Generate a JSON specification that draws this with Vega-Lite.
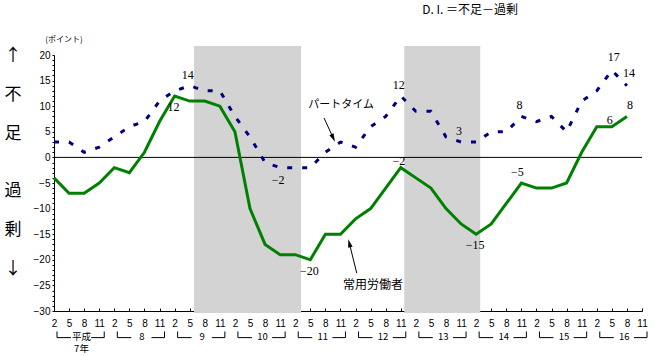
{
"$schema":"https://vega.github.io/schema/vega-lite/v6.json",
"width":588,"height":256,
"autosize":{"type":"none"},
"padding":{"left":54,"top":55,"right":11,"bottom":45},
"background":"white",
"config":{"view":{"stroke":null},"axis":{"grid":false,"labelColor":"black","domainColor":"black","tickColor":"black","labelFont":"Liberation Sans","labelFontSize":10,"zindex":1}},
"resolve":{"axis":{"x":"independent","y":"independent"}},
"datasets":{
"di":[
{"q":0,"series":"パートタイム","v":3},{"q":1,"series":"パートタイム","v":3},{"q":2,"series":"パートタイム","v":1},{"q":3,"series":"パートタイム","v":2},
{"q":4,"series":"パートタイム","v":4},{"q":5,"series":"パートタイム","v":6},{"q":6,"series":"パートタイム","v":7},{"q":7,"series":"パートタイム","v":11},
{"q":8,"series":"パートタイム","v":13},{"q":9,"series":"パートタイム","v":14},{"q":10,"series":"パートタイム","v":13},{"q":11,"series":"パートタイム","v":13},
{"q":12,"series":"パートタイム","v":8},{"q":13,"series":"パートタイム","v":4},{"q":14,"series":"パートタイム","v":-1},{"q":15,"series":"パートタイム","v":-2},
{"q":16,"series":"パートタイム","v":-2},{"q":17,"series":"パートタイム","v":-2},{"q":18,"series":"パートタイム","v":1},{"q":19,"series":"パートタイム","v":3},
{"q":20,"series":"パートタイム","v":2},{"q":21,"series":"パートタイム","v":6},{"q":22,"series":"パートタイム","v":8},{"q":23,"series":"パートタイム","v":12},
{"q":24,"series":"パートタイム","v":9},{"q":25,"series":"パートタイム","v":9},{"q":26,"series":"パートタイム","v":4},{"q":27,"series":"パートタイム","v":3},
{"q":28,"series":"パートタイム","v":3},{"q":29,"series":"パートタイム","v":5},{"q":30,"series":"パートタイム","v":5},{"q":31,"series":"パートタイム","v":8},
{"q":32,"series":"パートタイム","v":7},{"q":33,"series":"パートタイム","v":8},{"q":34,"series":"パートタイム","v":5},{"q":35,"series":"パートタイム","v":11},
{"q":36,"series":"パートタイム","v":13},{"q":37,"series":"パートタイム","v":17},{"q":38,"series":"パートタイム","v":14},
{"q":0,"series":"常用労働者","v":-4},{"q":1,"series":"常用労働者","v":-7},{"q":2,"series":"常用労働者","v":-7},{"q":3,"series":"常用労働者","v":-5},
{"q":4,"series":"常用労働者","v":-2},{"q":5,"series":"常用労働者","v":-3},{"q":6,"series":"常用労働者","v":1},{"q":7,"series":"常用労働者","v":7},
{"q":8,"series":"常用労働者","v":12},{"q":9,"series":"常用労働者","v":11},{"q":10,"series":"常用労働者","v":11},{"q":11,"series":"常用労働者","v":10},
{"q":12,"series":"常用労働者","v":5},{"q":13,"series":"常用労働者","v":-10},{"q":14,"series":"常用労働者","v":-17},{"q":15,"series":"常用労働者","v":-19},
{"q":16,"series":"常用労働者","v":-19},{"q":17,"series":"常用労働者","v":-20},{"q":18,"series":"常用労働者","v":-15},{"q":19,"series":"常用労働者","v":-15},
{"q":20,"series":"常用労働者","v":-12},{"q":21,"series":"常用労働者","v":-10},{"q":22,"series":"常用労働者","v":-6},{"q":23,"series":"常用労働者","v":-2},
{"q":24,"series":"常用労働者","v":-4},{"q":25,"series":"常用労働者","v":-6},{"q":26,"series":"常用労働者","v":-10},{"q":27,"series":"常用労働者","v":-13},
{"q":28,"series":"常用労働者","v":-15},{"q":29,"series":"常用労働者","v":-13},{"q":30,"series":"常用労働者","v":-9},{"q":31,"series":"常用労働者","v":-5},
{"q":32,"series":"常用労働者","v":-6},{"q":33,"series":"常用労働者","v":-6},{"q":34,"series":"常用労働者","v":-5},{"q":35,"series":"常用労働者","v":1},
{"q":36,"series":"常用労働者","v":6},{"q":37,"series":"常用労働者","v":6},{"q":38,"series":"常用労働者","v":8}
],
"recessions":[{"peak":9.29,"trough":16.39},{"peak":23.23,"trough":28.27}],
"years":[
{"year":"平成\n7年","first":0,"last":3},{"year":"8","first":4,"last":7},{"year":"9","first":8,"last":11},
{"year":"10","first":12,"last":15},{"year":"11","first":16,"last":19},{"year":"12","first":20,"last":23},
{"year":"13","first":24,"last":27},{"year":"14","first":28,"last":31},{"year":"15","first":32,"last":35},
{"year":"16","first":36,"last":39}
]
},
"layer":[
{"data":{"name":"di"},"transform":[{"filter":{"field":"series","equal":"常用労働者"}}],
 "mark":{"type":"line","color":"#008000","strokeWidth":3,"opacity":0},
 "encoding":{
 "x":{"field":"q","type":"quantitative","scale":{"domain":[0,39],"nice":false,"zero":false},
  "axis":{"title":null,"values":[0,1,2,3,4,5,6,7,8,9,10,11,12,13,14,15,16,17,18,19,20,21,22,23,24,25,26,27,28,29,30,31,32,33,34,35,36,37,38,39],
  "labelExpr":"['2','5','8','11'][datum.value % 4]","tickSize":-3,"labelPadding":10,"labelOverlap":false,"labelFlush":false,"labelAngle":0}},
 "y":{"field":"v","type":"quantitative","scale":{"domain":[-30,20],"nice":false,"zero":false},
  "axis":{"title":null,
  "values":[-30,-29,-28,-27,-26,-25,-24,-23,-22,-21,-20,-19,-18,-17,-16,-15,-14,-13,-12,-11,-10,-9,-8,-7,-6,-5,-4,-3,-2,-1,0,1,2,3,4,5,6,7,8,9,10,11,12,13,14,15,16,17,18,19,20],
  "labelExpr":"datum.value % 5 === 0 ? datum.label : ''","tickSize":2,"labelPadding":2,"labelOverlap":false}}}},
{"data":{"name":"recessions"},"mark":{"type":"rect","fill":"#d3d3d3"},
 "encoding":{"x":{"field":"peak","type":"quantitative","axis":null},
 "x2":{"field":"trough"},
 "y":{"datum":21.75,"type":"quantitative","axis":null},
 "y2":{"datum":-30.4}}},
{"data":{"values":[{}]},"mark":{"type":"rule","color":"black","strokeWidth":1},"encoding":{"y":{"datum":0,"type":"quantitative","axis":null}}},
{"data":{"name":"di"},"transform":[{"filter":{"field":"series","equal":"常用労働者"}}],
 "mark":{"type":"line","color":"#008000","strokeWidth":3},
 "encoding":{"x":{"field":"q","type":"quantitative","axis":null},"y":{"field":"v","type":"quantitative","axis":null}}},
{"data":{"name":"di"},"transform":[{"filter":{"field":"series","equal":"パートタイム"}}],
 "mark":{"type":"line","color":"#000080","strokeWidth":3,"strokeDash":[5,10]},
 "encoding":{"x":{"field":"q","type":"quantitative","axis":null},"y":{"field":"v","type":"quantitative","axis":null}}},
{"data":{"name":"di"},"transform":[{"filter":{"and":[{"field":"series","equal":"パートタイム"},{"field":"q","oneOf":[9,23,27,31]}]}}],
 "mark":{"type":"text","dy":-11,"dx":-2,"font":"Liberation Serif","fontSize":12,"color":"black"},
 "encoding":{"x":{"field":"q","type":"quantitative","axis":null},"y":{"field":"v","type":"quantitative","axis":null},"text":{"field":"v","type":"quantitative","format":"d"}}},
{"data":{"name":"di"},"transform":[{"filter":{"and":[{"field":"series","equal":"パートタイム"},{"field":"q","oneOf":[37,38]}]}}],
 "mark":{"type":"text","dy":-13,"dx":2,"font":"Liberation Serif","fontSize":12,"color":"black"},
 "encoding":{"x":{"field":"q","type":"quantitative","axis":null},"y":{"field":"v","type":"quantitative","axis":null},"text":{"field":"v","type":"quantitative","format":"d"}}},
{"data":{"name":"di"},"transform":[{"filter":{"and":[{"field":"series","equal":"パートタイム"},{"field":"q","oneOf":[15]}]}}],
 "mark":{"type":"text","dy":12,"dx":-2,"font":"Liberation Serif","fontSize":12,"color":"black"},
 "encoding":{"x":{"field":"q","type":"quantitative","axis":null},"y":{"field":"v","type":"quantitative","axis":null},"text":{"field":"v","type":"quantitative","format":"d"}}},
{"data":{"name":"di"},"transform":[{"filter":{"and":[{"field":"series","equal":"常用労働者"},{"field":"q","oneOf":[31]}]}}],
 "mark":{"type":"text","dy":-11,"dx":-4,"font":"Liberation Serif","fontSize":12,"color":"black"},
 "encoding":{"x":{"field":"q","type":"quantitative","axis":null},"y":{"field":"v","type":"quantitative","axis":null},"text":{"field":"v","type":"quantitative","format":"d"}}},
{"data":{"name":"di"},"transform":[{"filter":{"and":[{"field":"series","equal":"常用労働者"},{"field":"q","oneOf":[38]}]}}],
 "mark":{"type":"text","dy":-11,"dx":3,"font":"Liberation Serif","fontSize":12,"color":"black"},
 "encoding":{"x":{"field":"q","type":"quantitative","axis":null},"y":{"field":"v","type":"quantitative","axis":null},"text":{"field":"v","type":"quantitative","format":"d"}}},
{"data":{"name":"di"},"transform":[{"filter":{"and":[{"field":"series","equal":"常用労働者"},{"field":"q","oneOf":[23,37]}]}}],
 "mark":{"type":"text","dy":-7,"dx":-2,"font":"Liberation Serif","fontSize":12,"color":"black"},
 "encoding":{"x":{"field":"q","type":"quantitative","axis":null},"y":{"field":"v","type":"quantitative","axis":null},"text":{"field":"v","type":"quantitative","format":"d"}}},
{"data":{"name":"di"},"transform":[{"filter":{"and":[{"field":"series","equal":"常用労働者"},{"field":"q","oneOf":[8,17,28]}]}}],
 "mark":{"type":"text","dy":11,"dx":-1,"font":"Liberation Serif","fontSize":12,"color":"black"},
 "encoding":{"x":{"field":"q","type":"quantitative","axis":null},"y":{"field":"v","type":"quantitative","axis":null},"text":{"field":"v","type":"quantitative","format":"d"}}},
{"data":{"values":[{}]},"mark":{"type":"rule","color":"black","strokeWidth":1},
 "encoding":{"x":{"datum":17.91,"type":"quantitative","axis":null},"y":{"datum":7.7,"type":"quantitative","axis":null},"x2":{"datum":18.52},"y2":{"datum":3.8}}},
{"data":{"values":[{}]},"mark":{"type":"point","shape":"M0,-1L0.55,1L-0.55,1Z","filled":true,"color":"black","opacity":1,"size":70,"angle":155},
 "encoding":{"x":{"datum":18.52,"type":"quantitative","axis":null},"y":{"datum":3.8,"type":"quantitative","axis":null}}},
{"data":{"values":[{}]},"mark":{"type":"rule","color":"black","strokeWidth":1},
 "encoding":{"x":{"datum":20.08,"type":"quantitative","axis":null},"y":{"datum":-22.6,"type":"quantitative","axis":null},"x2":{"datum":19.59},"y2":{"datum":-16.76}}},
{"data":{"values":[{}]},"mark":{"type":"point","shape":"M0,-1L0.55,1L-0.55,1Z","filled":true,"color":"black","opacity":1,"size":70,"angle":346},
 "encoding":{"x":{"datum":19.59,"type":"quantitative","axis":null},"y":{"datum":-16.76,"type":"quantitative","axis":null}}},
{"data":{"values":[{}]},"mark":{"type":"text","font":"Noto Sans CJK JP","fontSize":11,"color":"black"},
 "encoding":{"x":{"datum":19.04,"type":"quantitative","axis":null},"y":{"datum":10.2,"type":"quantitative","axis":null},"text":{"value":"パートタイム"}}},
{"data":{"values":[{}]},"mark":{"type":"text","font":"Noto Sans CJK JP","fontSize":12,"color":"black"},
 "encoding":{"x":{"datum":21.16,"type":"quantitative","axis":null},"y":{"datum":-24.9,"type":"quantitative","axis":null},"text":{"value":"常用労働者"}}},
{"data":{"values":[{}]},"mark":{"type":"text","font":"Noto Sans CJK JP","fontSize":12,"color":"black"},
 "encoding":{"x":{"datum":27.6,"type":"quantitative","axis":null},"y":{"datum":28.7,"type":"quantitative","axis":null},"text":{"value":"D. I. ＝不足－過剰"}}},
{"data":{"values":[{}]},"mark":{"type":"text","font":"Noto Sans CJK JP","fontSize":8,"color":"black"},
 "encoding":{"x":{"datum":0.66,"type":"quantitative","axis":null},"y":{"datum":22.93,"type":"quantitative","axis":null},"text":{"value":"(ポイント)"}}},
{"data":{"values":[{}]},"mark":{"type":"text","font":"Noto Sans CJK JP","fontSize":17,"color":"black","baseline":"top","align":"center","lineHeight":39},
 "encoding":{"x":{"datum":-2.72,"type":"quantitative","axis":null},"y":{"datum":21.37,"type":"quantitative","axis":null},"text":{"value":["↑","不","足"]}}},
{"data":{"values":[{}]},"mark":{"type":"text","font":"Noto Sans CJK JP","fontSize":17,"color":"black","baseline":"top","align":"center","lineHeight":39},
 "encoding":{"x":{"datum":-2.72,"type":"quantitative","axis":null},"y":{"datum":-4.96,"type":"quantitative","axis":null},"text":{"value":["過","剰","↓"]}}},
{"data":{"name":"years"},"mark":{"type":"rule","color":"black","strokeWidth":1,"xOffset":3,"x2Offset":17},
 "encoding":{"x":{"field":"first","type":"quantitative","axis":null},"x2":{"field":"first"},"y":{"datum":-35.2,"type":"quantitative","axis":null}}},
{"data":{"name":"years"},"mark":{"type":"rule","color":"black","strokeWidth":1,"xOffset":-8,"x2Offset":5},
 "encoding":{"x":{"field":"last","type":"quantitative","axis":null},"x2":{"field":"last"},"y":{"datum":-35.2,"type":"quantitative","axis":null}}},
{"data":{"name":"years"},"mark":{"type":"rule","color":"black","strokeWidth":1,"xOffset":3},
 "encoding":{"x":{"field":"first","type":"quantitative","axis":null},"y":{"datum":-34,"type":"quantitative","axis":null},"y2":{"datum":-35.2}}},
{"data":{"name":"years"},"mark":{"type":"rule","color":"black","strokeWidth":1,"xOffset":5},
 "encoding":{"x":{"field":"last","type":"quantitative","axis":null},"y":{"datum":-34,"type":"quantitative","axis":null},"y2":{"datum":-35.2}}},
{"data":{"name":"years"},"mark":{"type":"text","dx":27.5,"baseline":"top","align":"center","lineBreak":"\n","lineHeight":12.5,"font":"Noto Sans CJK JP","fontSize":9.5,"color":"black"},
 "encoding":{"x":{"field":"first","type":"quantitative","axis":null},"y":{"datum":-34.1,"type":"quantitative","axis":null},"text":{"field":"year"}}}
]
}
